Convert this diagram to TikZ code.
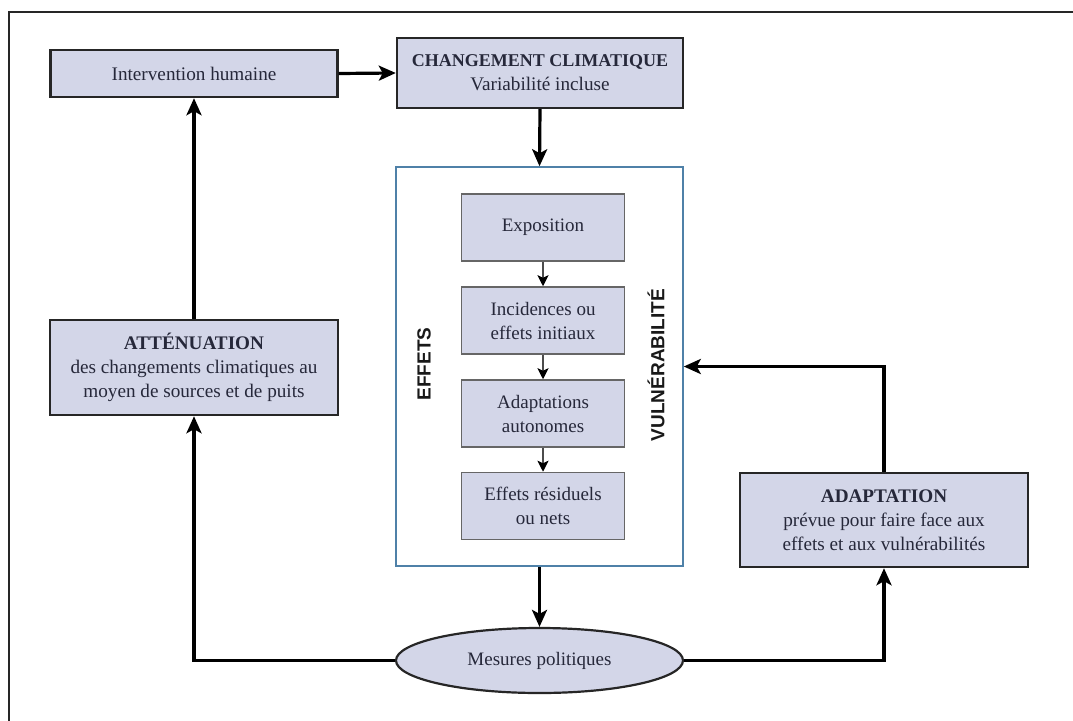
\documentclass[tikz,border=0pt]{standalone}
\usepackage{fontspec}
\setmainfont{Liberation Serif}
\newfontfamily\sansfam{Liberation Sans}
\usetikzlibrary{arrows.meta,shapes.geometric}
\definecolor{boxfill}{HTML}{D3D6E8}
\definecolor{boxtext}{HTML}{26283A}
\definecolor{framecol}{HTML}{4F81A8}
\tikzset{
  mainbox/.style={draw=black!85, line width=2.4pt, fill=boxfill, rectangle, inner sep=0pt,
     align=center, text=boxtext, font=\fontsize{19.2}{24}\selectfont},
  innerbox/.style={draw=black!60, line width=1.5pt, fill=boxfill, rectangle, inner sep=0pt,
     minimum width=163pt, minimum height=67pt, align=center, text=boxtext,
     font=\fontsize{19}{24}\selectfont},
  bigarrow/.style={line width=3.2pt, -{Stealth[length=17pt,width=15pt,inset=4pt]}},
  smallarrow/.style={draw=black!70, line width=2pt, -{Stealth[length=11pt,width=11pt,inset=2.5pt,fill=black,color=black]}},
  vlabel/.style={font=\sansfam\bfseries\fontsize{19}{22}\selectfont, text=black!90, rotate=90},
}
\begin{document}
\begin{tikzpicture}[x=1pt,y=-1pt]
\useasboundingbox (0,0) rectangle (1073,720);
% outer frame (runs past the right and bottom edges)
\draw[line width=2.2pt, black!85] (9,740) -- (9,12) -- (1090,12);

% nodes
\node[mainbox, minimum width=287pt, minimum height=47pt] (inter) at (194,73.5) {Intervention humaine};
\node[mainbox, minimum width=286pt, minimum height=70pt] (chg) at (540,73)
  {{\fontsize{18}{24}\selectfont\textbf{CHANGEMENT CLIMATIQUE}}\\Variabilité incluse};
\node[draw=framecol, line width=1.5pt, fill=white, rectangle, inner sep=0pt,
      minimum width=287pt, minimum height=399pt] (blue) at (539.5,366.5) {};
\node[innerbox] (expo) at (543,227.5) {Exposition};
\node[innerbox] (inc) at (543,320.5) {Incidences ou\\effets initiaux};
\node[innerbox] (adapa) at (543,413.5) {Adaptations\\autonomes};
\node[innerbox] (resid) at (543,506) {Effets résiduels\\ou nets};
\node[vlabel] (effets) at (424,364) {EFFETS};
\node[vlabel] (vuln) at (656,365) {VULNÉRABILITÉ};
\node[mainbox, minimum width=288pt, minimum height=95pt] (att) at (194,367.5)
  {\textbf{ATTÉNUATION}\\des changements climatiques au\\moyen de sources et de puits};
\node[mainbox, minimum width=288pt, minimum height=94pt] (adapt) at (884,520)
  {\textbf{ADAPTATION}\\prévue pour faire face aux\\effets et aux vulnérabilités};
\node[draw=black!85, line width=2.2pt, fill=boxfill, ellipse, inner sep=0pt,
      minimum width=287pt, minimum height=65pt, text=boxtext,
      font=\fontsize{19}{24}\selectfont] (mes) at (539.5,660.5) {Mesures politiques};

% connectors
\draw[bigarrow] (inter.east) -- (chg.west);
\draw[bigarrow] (chg.south) -- (blue.north);
\draw[smallarrow] (expo.south) -- (inc.north);
\draw[smallarrow] (inc.south) -- (adapa.north);
\draw[smallarrow] (adapa.south) -- (resid.north);
\draw[bigarrow] (blue.south) -- (mes.north);
\draw[bigarrow] (mes.west) -| (att.south);
\draw[bigarrow] (att.north) -- (inter.south);
\draw[bigarrow] (mes.east) -| (adapt.south);
\draw[bigarrow] (adapt.north) |- (blue.east);
\end{tikzpicture}
\end{document}
